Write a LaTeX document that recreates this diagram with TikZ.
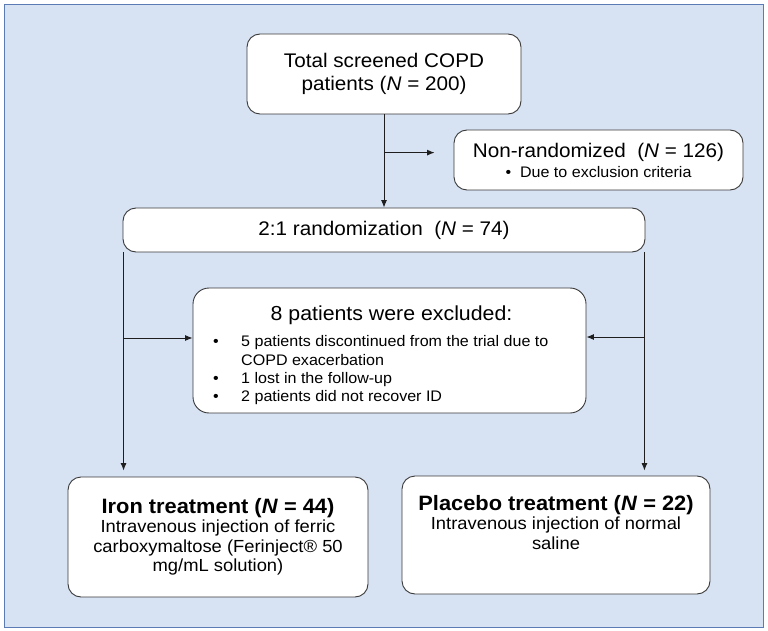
\documentclass[tikz,border=0pt]{standalone}
\usepackage{fontspec}
\setmainfont[FakeStretch=1.05]{Liberation Sans}
\usetikzlibrary{arrows.meta,calc}
\definecolor{bgblue}{HTML}{D7E2F3}
\definecolor{frameblue}{HTML}{5B7BB5}
\definecolor{edgegray}{HTML}{3A3A3A}
\definecolor{linedark}{HTML}{1E1E1E}
\newcommand\szMain{\fontsize{19.7}{23}\selectfont}
\newcommand\szSub{\fontsize{15.3}{20}\selectfont}
\newcommand\szBul{\fontsize{15.3}{18}\selectfont}
\newcommand\szBody{\fontsize{17.5}{19.5}\selectfont}
\newcommand\szHead{\fontsize{20.8}{19.5}\selectfont}
\tikzset{
  flowbox/.style={draw=edgegray, line width=0.9pt, fill=white, rounded corners=13pt,
    inner sep=0pt, align=center, text=black},
  conn/.style={draw=linedark, line width=0.9pt, -{Latex[length=7.5pt,width=6pt]}},
  txt/.style={inner sep=0pt, font=\szBul}
}
\begin{document}
\begin{tikzpicture}[x=1pt,y=-1pt]
\useasboundingbox (0,0) rectangle (768,631);
\draw[fill=bgblue, draw=frameblue, line width=1pt] (4.5,4.5) rectangle (763,627);

\node[flowbox, font=\szMain, minimum width=274pt, minimum height=80pt] (top) at (384,74)
  {Total screened COPD\\ patients (\textit{N} = 200)};
\node[flowbox, font=\szSub, minimum width=289pt, minimum height=60pt] (nonrand) at (598.5,160)
  {{\szMain Non-randomized\ \ (\textit{N} = 126)}\\ \textbullet\ \ Due to exclusion criteria};
\node[flowbox, font=\szMain, minimum width=522pt, minimum height=44pt] (rand) at (384,230)
  {2:1 randomization\ \ (\textit{N} = 74)};
\node[flowbox, rounded corners=16pt, minimum width=393pt, minimum height=125pt] (excl) at (389.5,350.5) {};
\node[anchor=base, inner sep=0pt, font=\fontsize{20.3}{22}\selectfont] (exT) at (391.5,320.7) {8 patients were excluded:};
\node[txt, anchor=base] (bu1) at (216,346.7) {\textbullet};
\node[txt, anchor=base west] (ex1) at (241,346.7) {5 patients discontinued from the trial due to};
\node[txt, anchor=base west] (ex2) at (241,365) {COPD exacerbation};
\node[txt, anchor=base] (bu2) at (216,383) {\textbullet};
\node[txt, anchor=base west] (ex3) at (241,383) {1 lost in the follow-up};
\node[txt, anchor=base] (bu3) at (216,401) {\textbullet};
\node[txt, anchor=base west] (ex4) at (241,401) {2 patients did not recover ID};

\node[flowbox, font=\szBody, minimum width=300pt, minimum height=120pt] (iron) at (218,537)
  {{\szHead\textbf{Iron treatment (\textit{N} = 44)}}\\
   Intravenous injection of ferric\\
   carboxymaltose (Ferinject® 50\\
   mg/mL solution)};
\node[flowbox, font=\szBody, minimum width=308pt, minimum height=118pt] (placebo) at (556,535)
  {{\szHead\textbf{Placebo treatment (\textit{N} = 22)}}\\
   Intravenous injection of normal\\
   saline\\
   \strut};

% connectors
\draw[conn] (top.south) -- (rand.north);
\coordinate (br) at ($(top.south)!0.41!(rand.north)$);
\draw[conn, shorten >=19pt] (br) -- (br -| nonrand.west);

\coordinate (lft) at ($(rand.south west)+(1,0)$);
\coordinate (rgt) at ($(rand.south east)+(-1,0)$);
\draw[conn, shorten >=6pt] (lft) -- (lft |- iron.north);
\draw[conn, shorten >=5pt] (rgt) -- (rgt |- placebo.north);
\coordinate (lmid) at (lft |- 0,338);
\coordinate (rmid) at (rgt |- 0,337);
\draw[conn] (lmid) -- (lmid -| excl.west);
\draw[conn] (rmid) -- (rmid -| excl.east);
\end{tikzpicture}
\end{document}
